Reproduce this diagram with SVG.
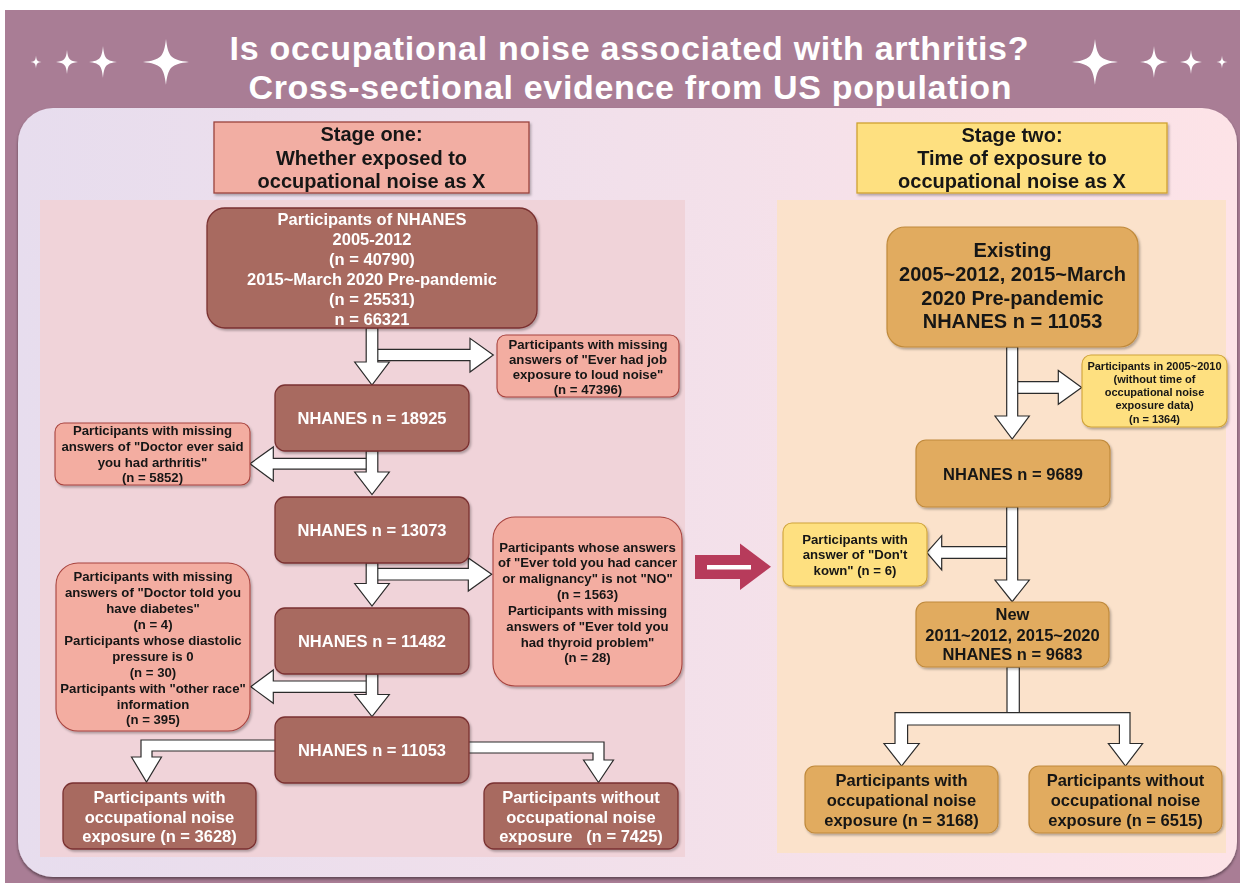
<svg xmlns="http://www.w3.org/2000/svg" width="1240" height="883" viewBox="0 0 1240 883">
<defs>
<style>
.t{font-family:"Liberation Sans",Arial,Helvetica,sans-serif;font-weight:bold;text-anchor:middle}
.w{fill:#ffffff}
.k{fill:#161616}
.f16{font-size:16.5px}
.f20{font-size:20px}
.f13{font-size:13.2px}
.f11{font-size:11px}
.dark{fill:#a86b61;stroke:#7a3030;stroke-width:1.3}
.salmon{fill:#f3ada1;stroke:#a8433e;stroke-width:1.1}
.orange{fill:#e1ab5e;stroke:#c08a3c;stroke-width:1.2}
.yellow{fill:#fee080;stroke:#d0a43a;stroke-width:1.1}
.arr{fill:#ffffff;stroke:#2b2b2b;stroke-width:1.2;stroke-linejoin:miter}
</style>
<linearGradient id="panelGrad" x1="0" y1="0" x2="1" y2="0">
<stop offset="0" stop-color="#e7ddee"/>
<stop offset="1" stop-color="#fde3e7"/>
</linearGradient>
<filter id="sh" x="-10%" y="-10%" width="120%" height="125%">
<feDropShadow dx="1.5" dy="2" stdDeviation="1.2" flood-color="#000" flood-opacity="0.28"/>
</filter>
<filter id="psh" x="-5%" y="-5%" width="110%" height="110%">
<feDropShadow dx="0" dy="2" stdDeviation="1.5" flood-color="#000" flood-opacity="0.45"/>
</filter>
<path id="star" d="M0,-1 C0.09,-0.22 0.22,-0.09 1,0 C0.22,0.09 0.09,0.22 0,1 C-0.09,0.22 -0.22,0.09 -1,0 C-0.22,-0.09 -0.09,-0.22 0,-1Z" fill="#ffffff"/>
</defs>

<rect x="0" y="0" width="1240" height="883" fill="#ffffff"/>
<rect x="5" y="10" width="1235" height="873" fill="#a97d95"/>

<g id="title">
<use href="#star" transform="translate(36,62) scale(5.5,6.5)"/>
<use href="#star" transform="translate(67,62) scale(11,12)"/>
<use href="#star" transform="translate(103,62) scale(14,16)"/>
<use href="#star" transform="translate(166,62) scale(23,23)"/>
<use href="#star" transform="translate(1095,62) scale(23,23)"/>
<use href="#star" transform="translate(1154,62) scale(14,16)"/>
<use href="#star" transform="translate(1191,62) scale(11,12)"/>
<use href="#star" transform="translate(1222,62) scale(5.5,6.5)"/>
<text class="t w" x="629" y="60" font-size="34" textLength="799" lengthAdjust="spacing">Is occupational noise associated with arthritis?</text>
<text class="t w" x="630" y="99" font-size="34" textLength="763" lengthAdjust="spacing">Cross-sectional evidence from US population</text>
</g>

<rect id="mainPanel" x="18" y="108" width="1219" height="769" rx="35" fill="url(#panelGrad)" filter="url(#psh)"/>
<rect id="panelLeft" x="40" y="200" width="645" height="657" fill="#f0d3d9"/>
<rect id="panelRight" x="777" y="200" width="449" height="653" fill="#fbe2cb"/>

<g id="stage1" filter="url(#sh)">
<rect x="214" y="122" width="315" height="71" fill="#f2aea3" stroke="#9a443e" stroke-width="1.3"/>
<text class="t k f20" x="371.5" y="141">Stage one:</text>
<text class="t k f20" x="371.5" y="165">Whether exposed to</text>
<text class="t k f20" x="371.5" y="188">occupational noise as X</text>
</g>
<g id="stage2" filter="url(#sh)">
<rect x="857" y="123" width="310" height="70" fill="#fee080" stroke="#cfa232" stroke-width="1.3"/>
<text class="t k f20" x="1012" y="142">Stage two:</text>
<text class="t k f20" x="1012" y="165">Time of exposure to</text>
<text class="t k f20" x="1012" y="188">occupational noise as X</text>
</g>

<g id="connectors">
<polygon class="arr" points="372,349.3 470,349.3 470,338.3 493.3,355 470,372 470,360.7 372,360.7"/>
<polygon class="arr" points="366.2,328 377.8,328 377.8,362 389.3,362 372,385 354.7,362 366.2,362"/>
<polygon class="arr" points="372,458.3 273.3,458.3 273.3,447 250,463.7 273.3,481 273.3,469.2 372,469.2"/>
<polygon class="arr" points="366.2,451 377.8,451 377.8,472 389.3,472 372,494.5 354.7,472 366.2,472"/>
<polygon class="arr" points="372,568.3 468.3,568.3 468.3,558 491.7,574.2 468.3,591 468.3,580 372,580"/>
<polygon class="arr" points="366.2,563 377.8,563 377.8,583.5 389.3,583.5 372,606 354.7,583.5 366.2,583.5"/>
<polygon class="arr" points="372,681 273.3,681 273.3,670 250.7,686.7 273.3,703.3 273.3,692.3 372,692.3"/>
<polygon class="arr" points="366.2,674 377.8,674 377.8,694.5 389.3,694.5 372,716.5 354.7,694.5 366.2,694.5"/>
<polygon class="arr" points="276,740 141,740 141,757 131.5,757 146.5,782 161.5,757 152,757 152,751 276,751"/>
<polygon class="arr" points="468,742 604,742 604,760 613.5,760 598.5,782.5 583.5,760 593,760 593,753 468,753"/>
<polygon class="arr" points="1012,381.7 1058.3,381.7 1058.3,370.5 1081.7,387.5 1058.3,404.3 1058.3,393.3 1012,393.3"/>
<polygon class="arr" points="1006.7,347 1017.7,347 1017.7,416 1029.3,416 1012.2,439 995,416 1006.7,416"/>
<polygon class="arr" points="1012,546.7 941.7,546.7 941.7,535.7 926.7,552.5 941.7,570 941.7,558.3 1012,558.3"/>
<polygon class="arr" points="1006.7,507 1017.7,507 1017.7,580 1029.3,580 1012.2,601.7 995,580 1006.7,580"/>
<rect class="arr" x="1007" y="667" width="12.3" height="46"/>
<polygon class="arr" points="895,712.7 1130,712.7 1130,743.5 1142.6,743.5 1125.5,766 1108.4,743.5 1119.4,743.5 1119.4,725 907.6,725 907.6,743.5 919.2,743.5 901.6,766 884,743.5 895,743.5"/>
<polygon points="695,555 740,555 740,543.5 771,566.7 740,590 740,579 695,579" fill="#b73b5b"/>
<line x1="707" y1="567.2" x2="751" y2="567.2" stroke="#ffffff" stroke-width="4.5"/>
</g>

<g id="n_top" filter="url(#sh)">
<rect class="dark" x="207" y="208" width="330" height="120" rx="18"/>
<text class="t w f16" x="372" y="225">Participants of NHANES</text>
<text class="t w f16" x="372" y="245">2005-2012</text>
<text class="t w f16" x="372" y="265">(n = 40790)</text>
<text class="t w f16" x="372" y="285">2015~March 2020 Pre-pandemic</text>
<text class="t w f16" x="372" y="305">(n = 25531)</text>
<text class="t w f16" x="372" y="325">n = 66321</text>
</g>
<g id="ex1" filter="url(#sh)">
<rect class="salmon" x="497" y="335" width="182" height="62" rx="9"/>
<text class="t k f13" x="588" y="348.5">Participants with missing</text>
<text class="t k f13" x="588" y="364">answers of &quot;Ever had job</text>
<text class="t k f13" x="588" y="379">exposure to loud noise&quot;</text>
<text class="t k f13" x="588" y="394">(n = 47396)</text>
</g>
<g id="n_18925" filter="url(#sh)">
<rect class="dark" x="275" y="385" width="194" height="66" rx="10"/>
<text class="t w f16" x="372" y="424">NHANES n = 18925</text>
</g>
<g id="ex2" filter="url(#sh)">
<rect class="salmon" x="55" y="423" width="195" height="62" rx="9"/>
<text class="t k f13" x="152.5" y="434.5">Participants with missing</text>
<text class="t k f13" x="152.5" y="450.5">answers of &quot;Doctor ever said</text>
<text class="t k f13" x="152.5" y="466.5">you had arthritis&quot;</text>
<text class="t k f13" x="152.5" y="482">(n = 5852)</text>
</g>
<g id="n_13073" filter="url(#sh)">
<rect class="dark" x="275" y="497" width="194" height="66" rx="10"/>
<text class="t w f16" x="372" y="536">NHANES n = 13073</text>
</g>
<g id="ex3" filter="url(#sh)">
<rect class="salmon" x="493" y="517" width="189" height="169" rx="22"/>
<text class="t k f13" x="587.5" y="551.5">Participants whose answers</text>
<text class="t k f13" x="587.5" y="567">of &quot;Ever told you had cancer</text>
<text class="t k f13" x="587.5" y="583">or malignancy&quot; is not &quot;NO&quot;</text>
<text class="t k f13" x="587.5" y="599">(n = 1563)</text>
<text class="t k f13" x="587.5" y="615">Participants with missing</text>
<text class="t k f13" x="587.5" y="631">answers of &quot;Ever told you</text>
<text class="t k f13" x="587.5" y="646.5">had thyroid problem&quot;</text>
<text class="t k f13" x="587.5" y="662">(n = 28)</text>
</g>
<g id="n_11482" filter="url(#sh)">
<rect class="dark" x="275" y="608" width="194" height="66" rx="10"/>
<text class="t w f16" x="372" y="647">NHANES n = 11482</text>
</g>
<g id="ex4" filter="url(#sh)">
<rect class="salmon" x="56" y="563" width="194" height="168" rx="22"/>
<text class="t k f13" x="153" y="581">Participants with missing</text>
<text class="t k f13" x="153" y="597">answers of &quot;Doctor told you</text>
<text class="t k f13" x="153" y="613">have diabetes&quot;</text>
<text class="t k f13" x="153" y="629">(n = 4)</text>
<text class="t k f13" x="153" y="645">Participants whose diastolic</text>
<text class="t k f13" x="153" y="661">pressure is 0</text>
<text class="t k f13" x="153" y="677">(n = 30)</text>
<text class="t k f13" x="153" y="692.5">Participants with &quot;other race&quot;</text>
<text class="t k f13" x="153" y="708.5">information</text>
<text class="t k f13" x="153" y="724">(n = 395)</text>
</g>
<g id="n_11053" filter="url(#sh)">
<rect class="dark" x="275" y="717" width="194" height="66" rx="10"/>
<text class="t w f16" x="372" y="756">NHANES n = 11053</text>
</g>
<g id="n_with1" filter="url(#sh)">
<rect class="dark" x="63" y="783" width="193" height="66" rx="10"/>
<text class="t w f16" x="159.5" y="803">Participants with</text>
<text class="t w f16" x="159.5" y="823">occupational noise</text>
<text class="t w f16" x="159.5" y="842">exposure (n = 3628)</text>
</g>
<g id="n_without1" filter="url(#sh)">
<rect class="dark" x="484" y="783" width="194" height="66" rx="10"/>
<text class="t w f16" x="581" y="803">Participants without</text>
<text class="t w f16" x="581" y="823">occupational noise</text>
<text class="t w f16" x="581" y="842" xml:space="preserve">exposure   (n = 7425)</text>
</g>

<g id="n_existing" filter="url(#sh)">
<rect class="orange" x="887" y="227" width="251" height="120" rx="18"/>
<text class="t k f20" x="1012.5" y="257">Existing</text>
<text class="t k f20" x="1012.5" y="280.5">2005~2012, 2015~March</text>
<text class="t k f20" x="1012.5" y="304.5">2020 Pre-pandemic</text>
<text class="t k f20" x="1012.5" y="328">NHANES n = 11053</text>
</g>
<g id="ex5" filter="url(#sh)">
<rect class="yellow" x="1082" y="355" width="145" height="72" rx="9"/>
<text class="t k f11" x="1154.5" y="369.7">Participants in 2005~2010</text>
<text class="t k f11" x="1154.5" y="382.9">(without time of</text>
<text class="t k f11" x="1154.5" y="396.1">occupational noise</text>
<text class="t k f11" x="1154.5" y="409.3">exposure data)</text>
<text class="t k f11" x="1154.5" y="422.5">(n = 1364)</text>
</g>
<g id="n_9689" filter="url(#sh)">
<rect class="orange" x="916" y="440" width="194" height="67" rx="10"/>
<text class="t k f16" x="1013" y="480">NHANES n = 9689</text>
</g>
<g id="ex6" filter="url(#sh)">
<rect class="yellow" x="783" y="523" width="144" height="63" rx="9"/>
<text class="t k f13" x="855" y="543.5">Participants with</text>
<text class="t k f13" x="855" y="559">answer of &quot;Don't</text>
<text class="t k f13" x="855" y="574.5">kown&quot; (n = 6)</text>
</g>
<g id="n_new" filter="url(#sh)">
<rect class="orange" x="916" y="602" width="193" height="65" rx="10"/>
<text class="t k f16" x="1012.5" y="620.3">New</text>
<text class="t k f16" x="1012.5" y="640.7">2011~2012, 2015~2020</text>
<text class="t k f16" x="1012.5" y="660.3">NHANES n = 9683</text>
</g>
<g id="n_with2" filter="url(#sh)">
<rect class="orange" x="805" y="766" width="193" height="67" rx="10"/>
<text class="t k f16" x="901.5" y="786">Participants with</text>
<text class="t k f16" x="901.5" y="806">occupational noise</text>
<text class="t k f16" x="901.5" y="825.5">exposure (n = 3168)</text>
</g>
<g id="n_without2" filter="url(#sh)">
<rect class="orange" x="1029" y="766" width="193" height="67" rx="10"/>
<text class="t k f16" x="1125.5" y="786">Participants without</text>
<text class="t k f16" x="1125.5" y="806">occupational noise</text>
<text class="t k f16" x="1125.5" y="825.5">exposure (n = 6515)</text>
</g>
</svg>
